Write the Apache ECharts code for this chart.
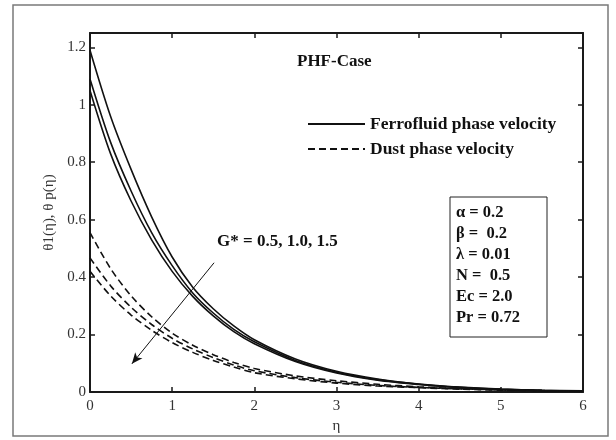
<!DOCTYPE html>
<html>
<head>
<meta charset="utf-8">
<script src="https://cdn.jsdelivr.net/npm/echarts@6/dist/echarts.min.js"></script>
<style>
  html, body { margin: 0; padding: 0; background: #fff; }
  #chart { width: 616px; height: 440px; }
</style>
</head>
<body>
<div id="chart"></div>
<script>
// eta grid the curves were read on
var eta = [0, 0.25, 0.5, 0.75, 1, 1.25, 1.5, 1.75, 2, 2.5, 3, 3.5, 4, 4.5, 5, 5.5, 6];

// ferrofluid phase (solid), G* = 0.5, 1.0, 1.5
var fluidG05 = [1.19, 0.96, 0.775, 0.61, 0.47, 0.365, 0.29, 0.23, 0.182, 0.115, 0.072, 0.045, 0.028, 0.017, 0.010, 0.006, 0.004];
var fluidG10 = [1.09, 0.87, 0.70, 0.555, 0.44, 0.345, 0.275, 0.218, 0.175, 0.110, 0.069, 0.043, 0.027, 0.016, 0.0095, 0.0055, 0.0035];
var fluidG15 = [1.05, 0.83, 0.665, 0.53, 0.42, 0.333, 0.265, 0.21, 0.168, 0.106, 0.066, 0.041, 0.026, 0.015, 0.009, 0.005, 0.003];

// dust phase (dashed), G* = 0.5, 1.0, 1.5
var dustG05 = [0.555, 0.43, 0.335, 0.262, 0.205, 0.163, 0.13, 0.103, 0.082, 0.056, 0.039, 0.027, 0.018, 0.012, 0.008, 0.005, 0.003];
var dustG10 = [0.467, 0.37, 0.295, 0.235, 0.187, 0.15, 0.12, 0.094, 0.074, 0.05, 0.034, 0.023, 0.016, 0.011, 0.007, 0.004, 0.003];
var dustG15 = [0.42, 0.335, 0.268, 0.215, 0.172, 0.138, 0.11, 0.087, 0.067, 0.046, 0.031, 0.021, 0.015, 0.010, 0.006, 0.004, 0.002];

var legendNames = ['Ferrofluid phase velocity', 'Dust phase velocity'];
var paramLines = ['\u03b1 = 0.2', '\u03b2 =  0.2', '\u03bb = 0.01', 'N =  0.5', 'Ec = 2.0', 'Pr = 0.72'];
var arrowFrom = [1.51, 0.45];
var arrowTo = [0.51, 0.098];

var serif = '"Liberation Serif", "DejaVu Serif", serif';

function pairs(ys) {
    return eta.map(function (x, i) { return [x, ys[i]]; });
}

function curve(name, ys, dashed) {
    return {
        name: name,
        type: 'line',
        data: pairs(ys),
        smooth: 0.3,
        symbol: 'none',
        silent: true,
        itemStyle: {color: '#111'},
        lineStyle: {color: '#111', width: 1.6, type: dashed ? [7, 4] : 'solid'}
    };
}

var chart = echarts.init(document.getElementById('chart'));

var frameAxis = {
    axisLabel: {show: false},
    axisLine: {onZero: false, lineStyle: {color: '#1a1a1a', width: 2}},
    axisTick: {inside: true, length: 5, lineStyle: {color: '#1a1a1a', width: 1.5}},
    splitLine: {show: false}
};

var series = [
    curve(legendNames[0], fluidG05, false),
    curve(legendNames[0], fluidG10, false),
    curve(legendNames[0], fluidG15, false),
    curve(legendNames[1], dustG05, true),
    curve(legendNames[1], dustG10, true),
    curve(legendNames[1], dustG15, true)
];

// G* arrow drawn in data coordinates
series[0].markLine = {
    silent: true,
    symbol: ['none', 'arrow'],
    symbolSize: [7, 11],
    label: {show: false},
    lineStyle: {color: '#111', width: 1, type: 'solid'},
    data: [[{coord: arrowFrom}, {coord: arrowTo}]]
};

var paramText = paramLines.map(function (t, i) {
    return {
        type: 'text',
        left: 456,
        top: 204 + i * 21,
        style: {text: t, font: 'bold 16.5px ' + serif, fill: '#111'}
    };
});

chart.setOption({
    animation: false,
    backgroundColor: '#fff',
    grid: {left: 90, right: 33, top: 33, bottom: 48},
    legend: {
        data: legendNames,
        orient: 'vertical',
        left: 307,
        top: 115,
        padding: 0,
        itemWidth: 57,
        itemHeight: 14,
        itemGap: 7,
        selectedMode: false,
        itemStyle: {opacity: 0},
        textStyle: {fontFamily: serif, fontWeight: 'bold', fontSize: 17.5, color: '#111'}
    },
    xAxis: [{
        type: 'value',
        min: 0,
        max: 6,
        interval: 1,
        name: '\u03b7',
        nameLocation: 'middle',
        nameGap: 24,
        nameTextStyle: {fontFamily: serif, fontSize: 15, color: '#333'},
        axisLine: {onZero: false, lineStyle: {color: '#1a1a1a', width: 2}},
        axisTick: {inside: true, length: 5, lineStyle: {color: '#1a1a1a', width: 1.5}},
        axisLabel: {fontFamily: serif, fontSize: 15, color: '#333', margin: 7},
        splitLine: {show: false}
    }, Object.assign({type: 'value', position: 'top', min: 0, max: 6, interval: 1}, frameAxis)],
    yAxis: [{
        type: 'value',
        min: 0,
        max: 1.25,
        interval: 0.2,
        name: '\u03b81(\u03b7), \u03b8 p(\u03b7)',
        nameLocation: 'middle',
        nameGap: 31,
        nameTextStyle: {fontFamily: serif, fontSize: 15, color: '#333'},
        axisLine: {onZero: false, lineStyle: {color: '#1a1a1a', width: 2}},
        axisTick: {inside: true, length: 5, lineStyle: {color: '#1a1a1a', width: 1.5}},
        axisLabel: {
            fontFamily: serif, fontSize: 15, color: '#333', margin: 4,
            formatter: function (v) { return v > 1.21 ? '' : String(+v.toFixed(1)); }
        },
        splitLine: {show: false}
    }, Object.assign({type: 'value', position: 'right', min: 0, max: 1.25, interval: 0.2}, frameAxis)],
    graphic: [
        {
            type: 'rect',
            shape: {x: 13, y: 5, width: 595, height: 431},
            style: {fill: 'none', stroke: '#7a7a7a', lineWidth: 1.5},
            silent: true
        },
        {
            type: 'text',
            left: 297,
            top: 53,
            style: {text: 'PHF-Case', font: 'bold 17px ' + serif, fill: '#111'}
        },
        {
            type: 'text',
            left: 217,
            top: 233,
            style: {text: 'G* = 0.5, 1.0, 1.5', font: 'bold 17px ' + serif, fill: '#111'}
        },
        {
            type: 'rect',
            shape: {x: 450, y: 197, width: 97, height: 140},
            style: {fill: '#fff', stroke: '#222', lineWidth: 1},
            silent: true
        }
    ].concat(paramText),
    series: series
});
</script>
</body>
</html>
